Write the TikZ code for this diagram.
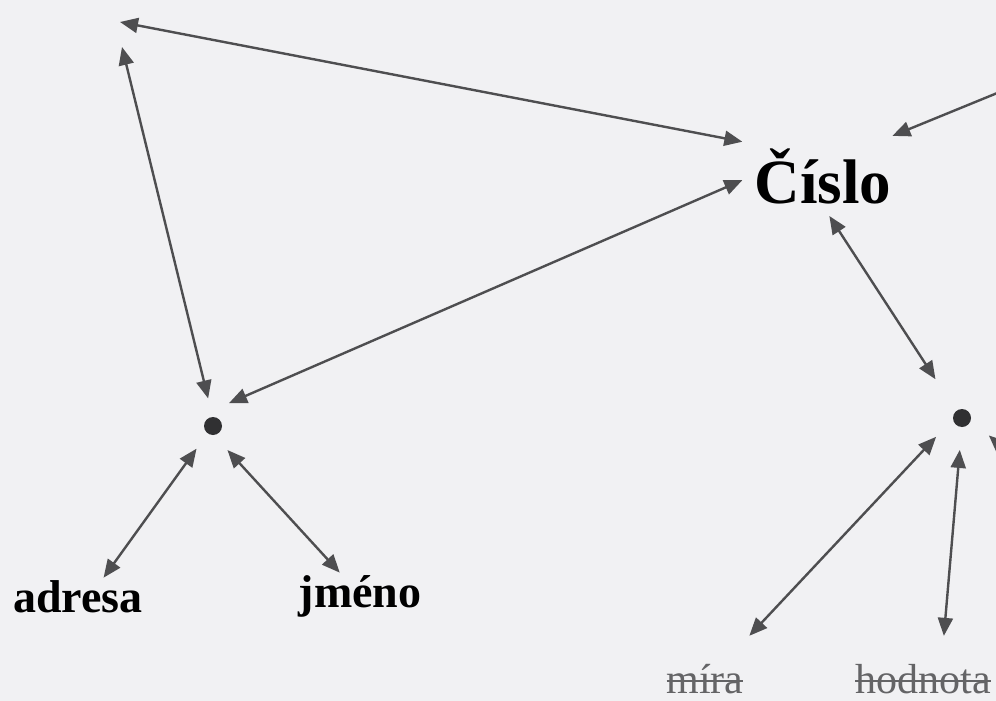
\documentclass[tikz,border=0pt]{standalone}
\usepackage{fontspec}
\setmainfont{Liberation Serif}
\usetikzlibrary{arrows.meta}
\definecolor{papergray}{RGB}{241,241,243}
\definecolor{linkgray}{RGB}{78,78,80}
\definecolor{dotgray}{RGB}{48,48,50}
\definecolor{fadegray}{RGB}{100,100,102}
\newcommand{\strikeword}[1]{\setbox0\hbox{#1}\rlap{\rule[0.55ex]{\wd0}{1pt}}\box0}

\begin{document}
\begin{tikzpicture}[x=0.5pt,y=-0.5pt,
    link/.style={{Triangle[length=9pt,width=7.5pt]}-{Triangle[length=9pt,width=7.5pt]},linkgray,line width=1.2pt},
    hub/.style={circle,fill=dotgray,minimum size=9pt,inner sep=0pt},
    term/.style={font=\bfseries\fontsize{23pt}{27pt}\selectfont,inner sep=1pt,anchor=base},
    gone/.style={font=\fontsize{21pt}{25pt}\selectfont,text=fadegray,inner sep=1pt,outer sep=13pt,anchor=base}]
  % Paper
  \useasboundingbox (0,0) rectangle (996,701);
  \clip (0,0) rectangle (996,701);
  \fill[papergray] (0,0) rectangle (996,701);
  % Words
  \node[font=\bfseries\fontsize{31.5pt}{36pt}\selectfont,inner sep=6pt,anchor=base] (cislo) at (823,203) {Číslo};
  \node[term] (adresa) at (78,612) {adresa};
  \node[term] (jmeno) at (360,607) {jméno};
  \node[gone] (mira) at (705,693) {\strikeword{míra}};
  \node[gone] (hodnota) at (923,693) {\strikeword{hodnota}};
  % Hubs
  \node[hub,outer sep=9.5pt] (ldot) at (213,426) {};
  \node[hub,outer sep=11.5pt] (rdot) at (962,418) {};
  % Free ends (cut off at the border)
  \coordinate (topA) at (120,22);
  \coordinate (topB) at (122,47);
  \coordinate (offR) at (1100,51);
  \coordinate (offC) at (1060,500);
  % Links
  \draw[link] (topA) -- (cislo.157);
  \draw[link] (topB) -- (ldot.100);
  \draw[link] (ldot.55) -- (cislo.183);
  \draw[link] (ldot.234) -- (adresa.36);
  \draw[link] (ldot.301) -- (jmeno.131);
  \draw[link] (offR) -- (cislo.30);
  \draw[link,shorten >=7.5pt] (cislo.279) -- (rdot.125);
  \draw[link] (rdot.216) -- (mira.44);
  \draw[link] (rdot.266) -- (hodnota.64);
  \draw[link] (rdot.327) -- (offC);
\end{tikzpicture}
\end{document}
